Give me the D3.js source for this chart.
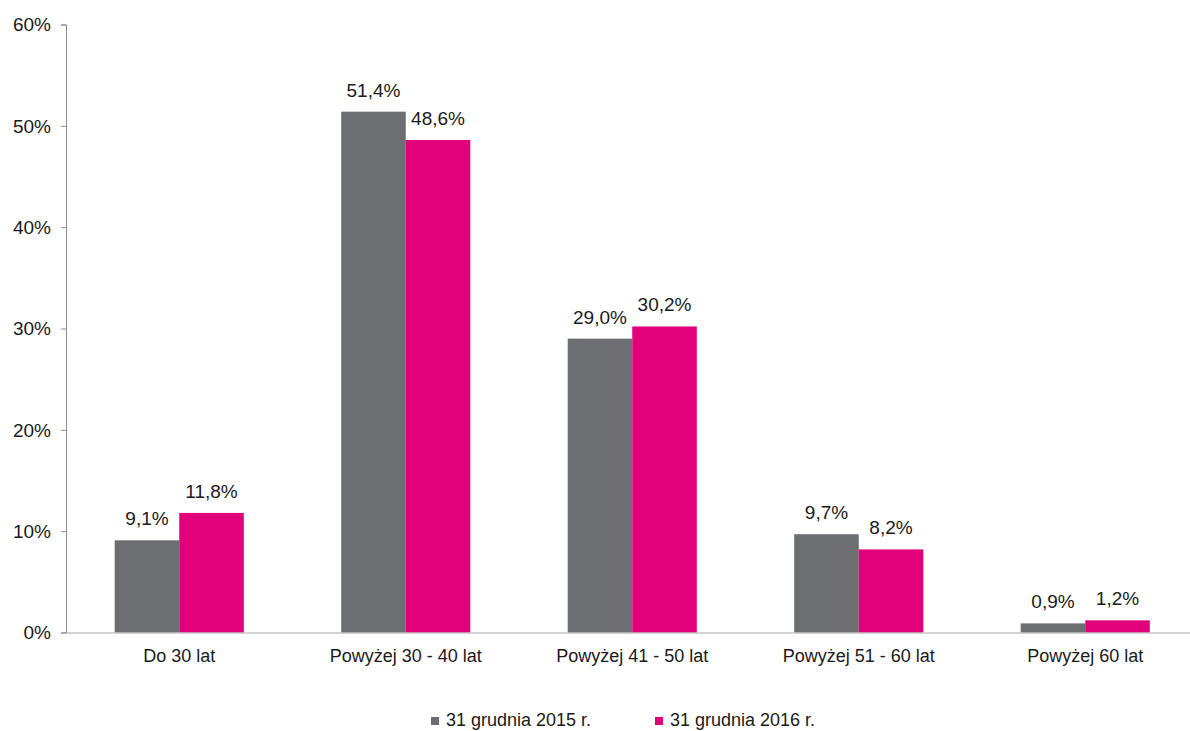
<!DOCTYPE html>
<html><head><meta charset="utf-8">
<script src="https://cdn.jsdelivr.net/npm/d3@7"></script>
<style>body{margin:0;background:#fff}svg{display:block}text{font-family:"Liberation Sans",Arial,sans-serif;fill:#1a1a1a}</style>
</head><body><svg id="c" width="1190" height="731"></svg>
<script>
const categories = ["Do 30 lat","Powyżej 30 - 40 lat","Powyżej 41 - 50 lat","Powyżej 51 - 60 lat","Powyżej 60 lat"];
const seriesNames = ["31 grudnia 2015 r.","31 grudnia 2016 r."];
const values2015 = [9.1,51.4,29.0,9.7,0.9];
const values2016 = [11.8,48.6,30.2,8.2,1.2];
const yTicks = [0,10,20,30,40,50,60];
const colors = ["#6d6e71","#e2007a"];

const svg = d3.select("#c");
const x0 = 66, x1 = 1198.5, yTop = 24.5, yBot = 632.5;
const x = d3.scaleBand().domain(categories).range([x0,x1]).paddingInner(0.43).paddingOuter(0.215);
const xs = d3.scaleBand().domain(seriesNames).range([0,x.bandwidth()]);
const y = d3.scaleLinear().domain([0,60]).range([yBot,yTop]);
const fmt = v => v.toFixed(1).replace(".",",")+"%";

// y axis
const ya = svg.append("g").attr("transform",`translate(${x0},0)`)
  .call(d3.axisLeft(y).tickValues(yTicks).tickSize(5).tickFormat(d=>d+"%"));
ya.select(".domain").attr("stroke","#8c8c8c");
ya.selectAll(".tick line").attr("stroke","#8c8c8c");
ya.selectAll(".tick text").attr("font-size",19).attr("x",-15).attr("dy","0.34em").style("font-family","Liberation Sans, Arial").attr("fill","#1a1a1a");

const data = categories.map((c,i)=>({c,vals:[values2015[i],values2016[i]]}));
const g = svg.append("g");
data.forEach(d=>{
  d.vals.forEach((v,j)=>{
    const bx = x(d.c)+xs(seriesNames[j]);
    g.append("rect").attr("x",bx).attr("y",y(v)).attr("width",xs.bandwidth()).attr("height",yBot-y(v)).attr("fill",colors[j]);
    g.append("text").attr("x",bx+xs.bandwidth()/2).attr("y",y(v)-15).attr("text-anchor","middle").attr("font-size",19).text(fmt(v));
  });
});

// x axis
const xa = svg.append("g").attr("transform",`translate(0,${yBot})`)
  .call(d3.axisBottom(x).tickSize(0).tickPadding(0));
xa.select(".domain").attr("stroke","#a6a6a6");
xa.selectAll(".tick text").attr("font-size",18).attr("y",29).attr("dy",0).style("font-family","Liberation Sans, Arial").attr("fill","#1a1a1a");

// legend
const leg = svg.append("g");
const legX = [431,655];
seriesNames.forEach((s,j)=>{
  leg.append("rect").attr("x",legX[j]).attr("y",717).attr("width",8).attr("height",8).attr("fill",colors[j]);
  leg.append("text").attr("x",legX[j]+15).attr("y",726).attr("font-size",18).text(s);
});
</script></body></html>
